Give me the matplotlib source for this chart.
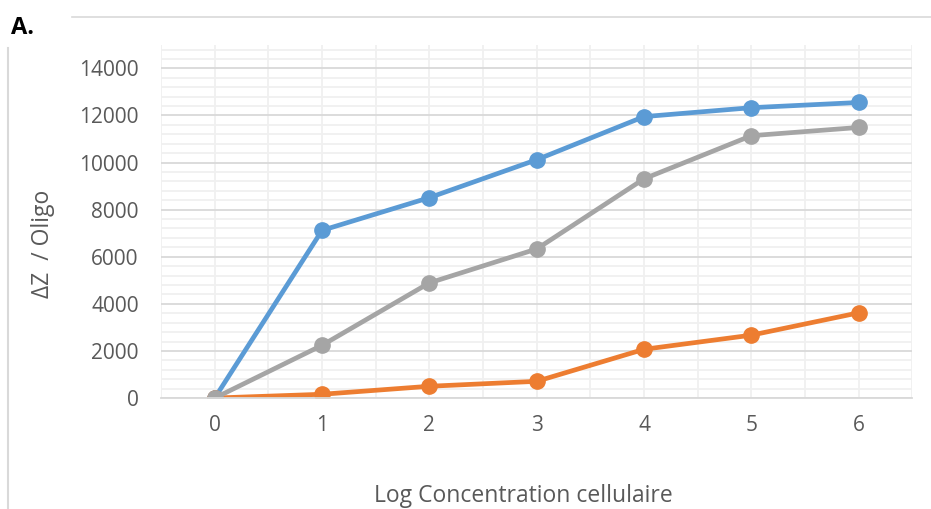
import matplotlib.pyplot as plt
from matplotlib.lines import Line2D
from matplotlib.ticker import MultipleLocator

plt.rcParams['font.family'] = ['Open Sans', 'DejaVu Sans']

log_conc = [0, 1, 2, 3, 4, 5, 6]
serie_bleue = [0, 7120, 8510, 10120, 11950, 12330, 12550]
serie_orange = [0, 160, 500, 710, 2070, 2670, 3620]
serie_grise = [0, 2240, 4890, 6330, 9310, 11140, 11490]

fig = plt.figure(figsize=(9.31, 5.09), dpi=100)
ax = fig.add_axes([0.173, 0.218, 0.807, 0.694])

# Excel-like grid
ax.set_xlim(-0.5, 6.5)
ax.set_ylim(0, 15000)
ax.set_yticks(range(0, 14001, 2000))
ax.yaxis.set_minor_locator(MultipleLocator(400))
ax.xaxis.set_minor_locator(MultipleLocator(0.5))
ax.set_xticks(log_conc)
ax.grid(which='minor', color='#F0F0F0', lw=1.3)
ax.grid(which='major', axis='y', color='#D9D9D9', lw=1.3)
ax.grid(which='major', axis='x', color='#F0F0F0', lw=1.3)
ax.set_axisbelow(True)
for s in ['top', 'right', 'left']:
    ax.spines[s].set_visible(False)
ax.spines['bottom'].set_color('#D9D9D9')
ax.spines['bottom'].set_linewidth(1.3)
ax.tick_params(which='both', length=0, labelsize=15, labelcolor='#595959')
ax.tick_params(axis='x', pad=12)
ax.tick_params(axis='y', pad=16)

ax.plot(log_conc, serie_bleue, color='#5B9BD5', lw=3.4, marker='o', ms=11)
ax.plot(log_conc, serie_orange, color='#ED7D31', lw=3.4, marker='o', ms=11)
ax.plot(log_conc, serie_grise, color='#A5A5A5', lw=3.4, marker='o', ms=11)

ax.set_xlabel('Log Concentration cellulaire', fontsize=16.5, color='#595959')
ax.set_ylabel('ΔZ  / Oligo', fontsize=16.5, color='#595959')
ax.xaxis.set_label_coords(0.482, -0.243)
ax.yaxis.set_label_coords(-0.141, 0.436)

fig.text(0.012, 0.945, 'A.', fontsize=17, fontweight='bold', color='black', va='center')
fig.add_artist(Line2D([72 / 931, 1.0], [1 - 17 / 509] * 2, color='#D9D9D9', lw=1.2))
fig.add_artist(Line2D([8 / 931] * 2, [0, 1 - 48 / 509], color='#D9D9D9', lw=1.5))

fig.savefig('out.png', dpi=100)
